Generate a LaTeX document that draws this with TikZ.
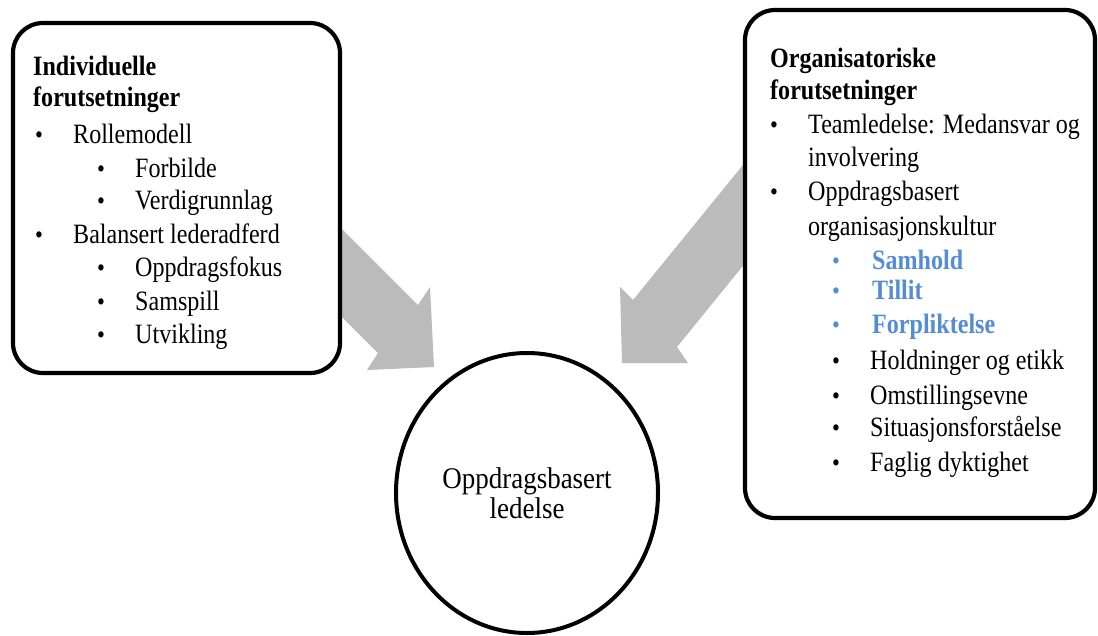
\documentclass[tikz,border=0pt]{standalone}
\usepackage{fontspec}
\setmainfont{Liberation Serif}[FakeStretch=0.86]
\newfontfamily\circfont{Liberation Serif}[FakeStretch=0.9]
\usetikzlibrary{shapes.geometric}
\definecolor{arrowgray}{RGB}{187,187,187}
\definecolor{accentblue}{RGB}{84,141,212}
\begin{document}
\begin{tikzpicture}[x=1pt,y=-1pt,
  boxstyle/.style={draw=black, line width=4.2pt, rounded corners=30pt, fill=white, inner sep=0pt},
  txt/.style={anchor=base west, inner sep=0pt, font=\fontsize{28}{32}\selectfont},
  ttl/.style={txt, font=\fontsize{28}{32}\selectfont\bfseries},
  blu/.style={txt, text=accentblue, font=\fontsize{28}{32}\selectfont\bfseries},
  bul/.style={anchor=base west, inner sep=0pt, font=\fontsize{26}{30}\selectfont},
  blockarrow/.style={fill=arrowgray, draw=none}]
\useasboundingbox (0,0) rectangle (1098,635);

% block arrows (tails hidden under the boxes)
\fill[blockarrow] (260,147) -- (418,305) -- (430,287) -- (434,367) -- (367,370) -- (378,353) -- (216,191) -- cycle;
\fill[blockarrow] (800,95) -- (633,300) -- (620,287) -- (622,363) -- (688,363) -- (677,347) -- (850,134) -- cycle;

% boxes
\node[boxstyle, minimum width=327pt, minimum height=350pt] (lbox) at (176.5,198) {};
\node[boxstyle, minimum width=350pt, minimum height=508pt] (rbox) at (920,264) {};

% circle
\node[ellipse, draw=black, line width=4pt, fill=white, minimum width=262pt, minimum height=280pt, inner sep=0pt,
      align=center, font=\circfont\fontsize{30}{30}\selectfont] (goal) at (527,493) {Oppdragsbasert\\ledelse};

% left box text
\node[ttl] (l1) at (33,75) {Individuelle};
\node[ttl] (l2) at (33,106) {forutsetninger};
\node[bul] (lb1) at (35,143) {•};
\node[txt] (l3) at (73,143) {Rollemodell};
\node[bul] (lb2) at (97,177) {•};
\node[txt] (l4) at (135,177) {Forbilde};
\node[bul] (lb3) at (97,209) {•};
\node[txt] (l5) at (135,209) {Verdigrunnlag};
\node[bul] (lb4) at (35,243) {•};
\node[txt] (l6) at (73,243) {Balansert lederadferd};
\node[bul] (lb5) at (97,276) {•};
\node[txt] (l7) at (135,276) {Oppdragsfokus};
\node[bul] (lb6) at (97,310) {•};
\node[txt] (l8) at (135,310) {Samspill};
\node[bul] (lb7) at (97,343) {•};
\node[txt] (l9) at (135,343) {Utvikling};

% right box text
\node[ttl] (r1) at (770,67) {Organisatoriske};
\node[ttl] (r2) at (770,99) {forutsetninger};
\node[bul] (rb1) at (770,133) {•};
\node[txt] (r3) at (808,133) {Teamledelse: Medansvar og};
\node[txt] (r4) at (808,166) {involvering};
\node[bul] (rb2) at (770,200) {•};
\node[txt] (r5) at (808,200) {Oppdragsbasert};
\node[txt] (r6) at (808,235) {organisasjonskultur};
\node[bul, text=accentblue] (rb3) at (832,269) {•};
\node[blu] (r7) at (872,269) {Samhold};
\node[bul, text=accentblue] (rb4) at (832,299) {•};
\node[blu] (r8) at (872,299) {Tillit};
\node[bul, text=accentblue] (rb5) at (832,333) {•};
\node[blu] (r9) at (872,333) {Forpliktelse};
\node[bul] (rb6) at (832,369) {•};
\node[txt] (r10) at (870,369) {Holdninger og etikk};
\node[bul] (rb7) at (832,404) {•};
\node[txt] (r11) at (870,404) {Omstillingsevne};
\node[bul] (rb8) at (832,436) {•};
\node[txt] (r12) at (870,436) {Situasjonsforståelse};
\node[bul] (rb9) at (832,471) {•};
\node[txt] (r13) at (870,471) {Faglig dyktighet};
\end{tikzpicture}
\end{document}
